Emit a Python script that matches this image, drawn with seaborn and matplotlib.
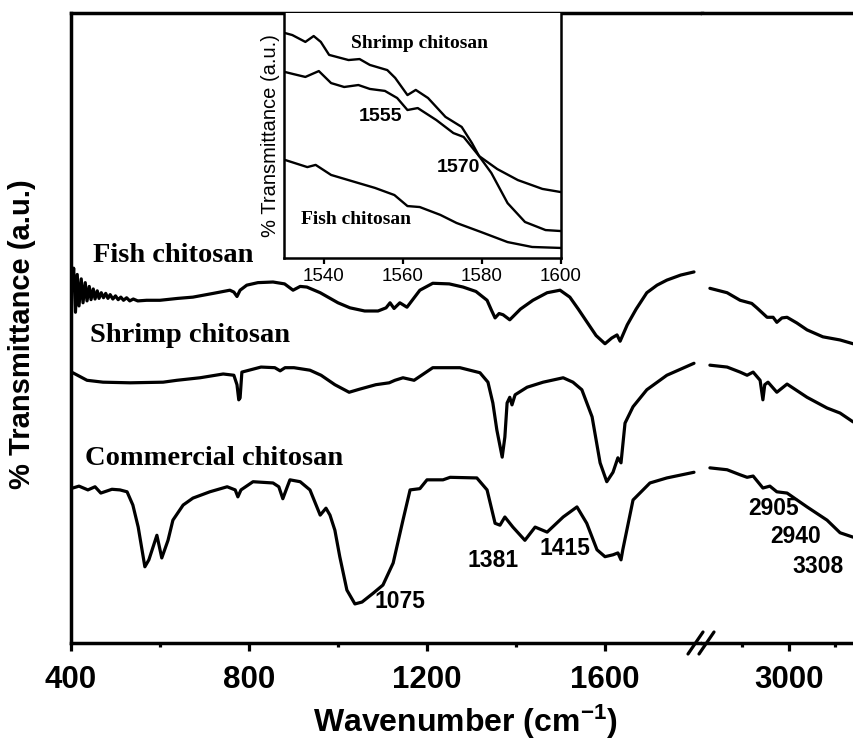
import matplotlib
matplotlib.use("Agg")
import matplotlib.pyplot as plt
from matplotlib.lines import Line2D
import seaborn as sns

# ==========================================
# DATA
# ==========================================
# --- main panel, left segment (400-1800 cm-1) ---
fish_w = [402, 406, 410, 414, 418, 423, 427, 432, 436, 441, 445, 450, 454, 459, 463,
          468, 473, 478, 483, 488, 494, 500, 506, 512, 518, 525, 532, 540, 550, 570,
          600, 640, 674, 720, 757, 766, 773, 780,
          795, 820, 854, 880, 899, 915, 930, 960, 1000, 1027, 1060, 1090, 1108, 1117,
          1126, 1139, 1155, 1184, 1213, 1250, 1281, 1310, 1335, 1345, 1353, 1362, 1371,
          1386, 1410, 1438, 1470, 1499, 1521, 1540, 1559, 1580, 1600, 1615, 1627, 1634,
          1642, 1650, 1670, 1694, 1717, 1739, 1770, 1800]
fish_t = [56.0, 59.5, 52.5, 58.5, 53.5, 57.8, 54.0, 57.2, 54.3, 56.6, 54.5, 56.2, 54.6,
          55.9, 54.7, 55.6, 54.8, 55.5, 54.7, 55.3, 54.6, 55.1, 54.5, 54.9, 54.4, 54.8,
          54.3, 54.6, 54.3, 54.4,
          54.4, 54.7, 54.9, 55.5, 56.0, 55.7, 55.0, 56.0,
          56.8, 57.2, 57.3, 57.0, 56.0, 56.6, 56.5, 55.6, 54.0, 53.2, 52.7, 52.7, 53.2,
          54.0, 53.1, 54.0, 53.3, 56.0, 57.1, 57.0, 56.5, 55.8,
          54.4, 52.8, 51.6, 52.3, 52.1, 51.3, 53.0, 54.4, 55.6, 56.0, 54.9, 53.0, 51.0,
          48.8, 47.5, 48.4, 48.9, 47.9, 49.2, 50.5, 53.0, 55.6, 56.8, 57.6, 58.4, 58.9]

shrimp_w = [404, 436, 472, 533, 607, 638, 690, 742, 766, 773, 777, 780, 784, 827, 858,
            870, 881, 901, 937, 962, 993, 1025, 1049, 1085, 1115, 1128, 1146, 1171, 1213,
            1274, 1319, 1337, 1348, 1357, 1369, 1375, 1380, 1386, 1391, 1398, 1425, 1461,
            1506, 1528, 1548, 1571, 1589, 1604, 1618, 1629, 1636, 1645, 1663, 1694, 1739,
            1800]
shrimp_t = [42.9, 41.7, 41.4, 41.3, 41.4, 41.7, 42.1, 42.7, 42.5, 41.0, 38.6, 38.9, 43.0,
            43.8, 43.7, 43.2, 43.7, 43.7, 43.3, 42.5, 41.0, 39.8, 40.3, 41.0, 41.3, 41.7,
            42.1, 41.7, 43.7, 43.7, 42.9, 41.4, 38.1, 33.8, 29.5, 32.7, 38.1, 39.0, 37.8,
            39.4, 40.6, 41.4, 42.1, 41.4, 40.2, 35.9, 28.6, 25.6, 27.1, 29.4, 28.6, 34.9,
            37.5, 40.2, 42.5, 44.4]

comm_w = [404, 418, 438, 454, 467, 492, 510, 526, 539, 551, 566, 575, 593, 604, 618,
          629, 652, 674, 712, 751, 769, 775, 782, 809, 854, 867, 876, 885, 892, 915, 937,
          960, 973, 982, 993, 1004, 1020, 1038, 1054, 1079, 1101, 1124, 1146, 1162, 1184,
          1200, 1236, 1252, 1312, 1335, 1353, 1364, 1375, 1393, 1420, 1443, 1470, 1506,
          1537, 1559, 1582, 1600, 1618, 1629, 1636, 1640, 1663, 1701, 1739, 1800]
comm_t = [24.6, 24.9, 24.3, 24.8, 23.8, 24.4, 24.3, 24.0, 21.9, 18.4, 12.1, 13.2, 17.1,
          13.5, 16.3, 19.5, 21.9, 23.0, 24.0, 24.8, 24.3, 23.2, 24.3, 25.6, 25.4, 24.8,
          22.9, 24.6, 25.9, 25.6, 24.3, 20.3, 21.4, 20.3, 17.9, 13.7, 8.4, 6.2, 6.5, 7.9,
          9.2, 12.7, 19.5, 24.3, 24.5, 25.9, 25.9, 26.3, 26.2, 24.3, 19.0, 18.7, 20.0,
          18.4, 16.3, 18.4, 17.6, 20.0, 21.6, 19.0, 14.8, 13.7, 14.0, 14.3, 13.2, 14.8,
          22.7, 25.4, 26.2, 27.1]

# --- main panel, right segment (after the break) ---
fish_w2 = [2830, 2867, 2895, 2910, 2920, 2931, 2953, 2966, 2974, 2985, 2996, 3017, 3039,
           3073, 3110, 3138]
fish_t2 = [56.3, 55.6, 54.4, 54.1, 53.9, 53.2, 51.7, 51.7, 50.9, 51.6, 51.7, 50.8, 49.7,
           48.6, 48.1, 47.5]
shrimp_w2 = [2830, 2867, 2895, 2910, 2923, 2938, 2944, 2948, 2955, 2974, 2996, 3039,
             3082, 3110, 3138]
shrimp_t2 = [44.1, 43.8, 43.0, 42.5, 43.0, 41.7, 38.6, 41.0, 41.4, 39.8, 41.1, 39.0,
             37.3, 36.5, 35.1]
comm_w2 = [2830, 2867, 2895, 2910, 2923, 2944, 2959, 2974, 2996, 3039, 3082, 3110, 3138]
comm_t2 = [27.8, 27.5, 26.7, 26.3, 26.5, 24.6, 24.9, 24.0, 23.8, 21.6, 19.5, 17.5, 16.8]

# --- inset (1530-1600 cm-1) ---
in_shrimp_w = [1530.3, 1532.1, 1535.4, 1537.5, 1539.3, 1541.4, 1546.3, 1549.1, 1551.7,
               1556.1, 1558.1, 1561.2, 1563.3, 1566.4, 1570.8, 1574.9, 1577.5, 1579.3,
               1582.4, 1586.5, 1590.9, 1596.1, 1600]
in_shrimp_t = [91.8, 91.0, 88.2, 90.6, 88.2, 82.9, 80.8, 81.2, 78.8, 76.7, 73.5, 66.5,
               68.6, 65.3, 57.6, 53.5, 46.9, 41.6, 34.7, 22.4, 14.7, 11.4, 11.0]
in_comm_w = [1530.3, 1532.3, 1535.4, 1538.8, 1541.9, 1545.2, 1548.8, 1551.7, 1555.5,
             1558.6, 1561.2, 1563.8, 1568.5, 1572.8, 1575.4, 1579.3, 1583.9, 1589.1,
             1595.3, 1600]
in_comm_t = [75.9, 75.1, 73.9, 76.3, 71.4, 69.8, 70.6, 69.0, 68.2, 65.3, 60.4, 61.2,
             56.3, 51.0, 49.4, 41.6, 36.3, 31.8, 28.2, 26.9]
in_fish_w = [1530.3, 1535.9, 1538.0, 1541.9, 1548.8, 1553.0, 1557.9, 1561.2, 1564.3,
             1569.5, 1573.6, 1579.8, 1586.5, 1592.7, 1600]
in_fish_t = [40.0, 37.1, 38.0, 33.9, 30.6, 28.6, 25.7, 21.2, 20.8, 17.6, 14.3, 10.6,
             6.5, 4.5, 4.1]

# ticks and annotations
left_major = [400, 800, 1200, 1600]
left_minor = [600, 1000, 1400]
right_major = [3000]
right_minor = [2900, 3100]
inset_ticks = [1540, 1560, 1580, 1600]

names = ["Fish chitosan", "Shrimp chitosan", "Commercial chitosan"]
name_pos = [(449, 60.5), (443, 47.8), (431, 28.3)]
peaks_left = [("1075", 1139, 5.6), ("1381", 1348, 12.1), ("1415", 1510, 14.0)]
peaks_right = [("2905", 2966, 20.3), ("2940", 3015, 15.9), ("3308", 3062, 11.1)]
inset_peaks = [("1555", 1554.3, 55.9), ("1570", 1574.1, 35.1)]

# ==========================================
# FIGURE
# ==========================================
sns.set_style("white")
plt.rcParams['font.family'] = ['Liberation Sans', 'DejaVu Sans']
plt.rcParams['mathtext.default'] = 'regular'
plt.rcParams['text.color'] = 'black'
plt.rcParams['axes.labelcolor'] = 'black'
plt.rcParams['xtick.color'] = 'black'
plt.rcParams['ytick.color'] = 'black'

W, H = 854, 745
fig = plt.figure(figsize=(W / 100, H / 100), dpi=100)

ax = fig.add_axes([71 / W, 1 - 643 / H, 631 / W, 630 / H])
ax2 = fig.add_axes([702 / W, 1 - 643 / H, 152 / W, 630 / H])
axin = fig.add_axes([284 / W, 1 - 258 / H, 277 / W, 245 / H])

LW = 2.3
for w, t in [(fish_w, fish_t), (shrimp_w, shrimp_t), (comm_w, comm_t)]:
    sns.lineplot(x=w, y=t, ax=ax, color='black', linewidth=LW, sort=False,
                 estimator=None)
for w, t in [(fish_w2, fish_t2), (shrimp_w2, shrimp_t2), (comm_w2, comm_t2)]:
    sns.lineplot(x=w, y=t, ax=ax2, color='black', linewidth=LW, sort=False,
                 estimator=None)
for w, t in [(in_shrimp_w, in_shrimp_t), (in_comm_w, in_comm_t), (in_fish_w, in_fish_t)]:
    sns.lineplot(x=w, y=t, ax=axin, color='black', linewidth=1.7, sort=False,
                 estimator=None)

# main axes styling
ax.set_xlim(400, 1818)
ax2.set_xlim(2813, 3140)
for a in (ax, ax2):
    a.set_ylim(0, 100)
    a.set_yticks([])
    a.set_xlabel('')
    a.set_ylabel('')
    a.tick_params(axis='x', which='major', direction='out', length=6, width=2.3,
                  labelsize=22.5, pad=9.5, bottom=True, colors='black')
    a.tick_params(axis='x', which='minor', direction='out', length=3, width=2.3,
                  bottom=True, colors='black')
    for s in a.spines.values():
        s.set_linewidth(2.5)
        s.set_color('black')
    a.spines['right'].set_visible(False)
ax2.spines['left'].set_visible(False)

ax.set_xticks(left_major)
ax.set_xticks(left_minor, minor=True)
ax2.set_xticks(right_major)
ax2.set_xticks(right_minor, minor=True)
for a in (ax, ax2):
    for tl in a.get_xticklabels():
        tl.set_fontweight('bold')

# break marks on the x axis
for x0 in (688, 699):
    fig.add_artist(Line2D([x0 / W, (x0 + 15) / W], [1 - 654 / H, 1 - 632 / H],
                          transform=fig.transFigure, color='black', lw=2.3))

# curve names and peak labels
serif = ['Liberation Serif', 'DejaVu Serif']
for name, (x, y) in zip(names, name_pos):
    ax.text(x, y, name, family=serif, fontweight='bold', fontsize=20.5,
            va='baseline', ha='left', color='black')
for lab, x, y in peaks_left:
    ax.text(x, y, lab, fontweight='bold', fontsize=16.5, ha='center', va='baseline',
            color='black')
for lab, x, y in peaks_right:
    ax2.text(x, y, lab, fontweight='bold', fontsize=16.5, ha='center', va='baseline',
             color='black')

fig.text(465 / W, 1 - 732 / H, r'Wavenumber (cm$^{-1}$)', fontsize=23,
         fontweight='bold', ha='center', va='baseline', color='black')
fig.text(22 / W, 1 - 334 / H, '% Transmittance (a.u.)', fontsize=21,
         fontweight='bold', ha='center', va='center', rotation=90, color='black')

# inset
axin.set_xlim(1530, 1600)
axin.set_ylim(0, 100)
axin.set_xticks(inset_ticks)
axin.set_yticks([])
axin.set_xlabel('')
axin.set_ylabel('% Transmittance (a.u.)', fontsize=14.5, labelpad=3, color='black')
axin.tick_params(axis='x', direction='out', length=4, width=1.6, labelsize=13.5,
                 pad=3, bottom=True, colors='black')
for s in axin.spines.values():
    s.set_linewidth(1.8)
    s.set_color('black')
axin.spines['top'].set_visible(False)
axin.text(1564.3, 85.7, "Shrimp chitosan", family=serif, fontweight='bold',
          fontsize=14, ha='center', va='baseline', color='black')
axin.text(1548.3, 13.9, "Fish chitosan", family=serif, fontweight='bold',
          fontsize=14, ha='center', va='baseline', color='black')
for lab, x, y in inset_peaks:
    axin.text(x, y, lab, fontweight='bold', fontsize=14, ha='center', va='baseline',
              color='black')

fig.savefig('out.png', dpi=100)
